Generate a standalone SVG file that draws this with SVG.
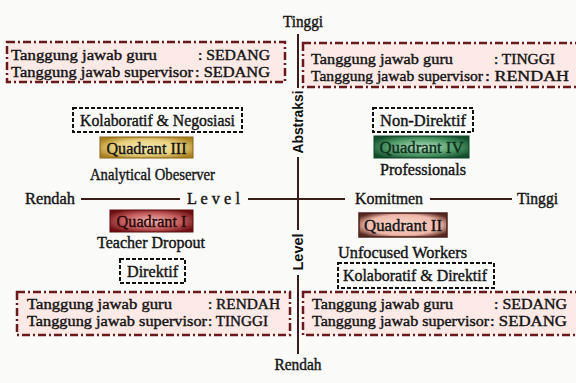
<svg xmlns="http://www.w3.org/2000/svg" width="576" height="383" viewBox="0 0 576 383">
<defs>
<style>
.t{font-family:"Liberation Serif","Times New Roman",serif;font-size:16.5px;fill:#141414;stroke:#141414;stroke-width:0.4}
.s{font-size:15px}
.ax{font-family:"Liberation Sans",Arial,sans-serif;font-weight:bold;font-size:14px;fill:#111}
.dd{fill:#fde9e6;stroke:#6b1a1c;stroke-width:2.5;stroke-dasharray:8 3 2 3}
.bd{fill:none;stroke:#111;stroke-width:2;stroke-dasharray:4 2}
.axis{stroke:#3a1d18;stroke-width:2;fill:none}
</style>
<radialGradient id="g3" cx="50%" cy="50%" r="60%"><stop offset="0" stop-color="#f7ebb4"/><stop offset="0.6" stop-color="#e8cf7c"/><stop offset="1" stop-color="#a9811f"/></radialGradient>
<radialGradient id="g4" cx="50%" cy="50%" r="60%"><stop offset="0" stop-color="#b8e2c2"/><stop offset="0.6" stop-color="#4f9a68"/><stop offset="1" stop-color="#124e2c"/></radialGradient>
<radialGradient id="g1" cx="50%" cy="50%" r="60%"><stop offset="0" stop-color="#f1b9b6"/><stop offset="0.6" stop-color="#c25a5a"/><stop offset="1" stop-color="#6d0f12"/></radialGradient>
<radialGradient id="g2" cx="50%" cy="50%" r="60%"><stop offset="0" stop-color="#fad8ce"/><stop offset="0.7" stop-color="#efb7a8"/><stop offset="1" stop-color="#5a2a22"/></radialGradient>
</defs>
<rect width="576" height="383" fill="#fafaf8"/>

<g id="connectors">
<line class="axis" x1="298" y1="34" x2="298" y2="88"/>
<line class="axis" x1="298" y1="157" x2="298" y2="230"/>
<line class="axis" x1="298" y1="275" x2="298" y2="354"/>
<line class="axis" x1="81" y1="199" x2="180" y2="199"/>
<line class="axis" x1="248" y1="199" x2="345" y2="199"/>
<line class="axis" x1="430" y1="199" x2="512" y2="199"/>
</g>

<g id="axis-labels">
<text class="t" x="303" y="27" text-anchor="middle" textLength="40" lengthAdjust="spacingAndGlyphs">Tinggi</text>
<text class="t" x="298" y="370" text-anchor="middle" textLength="47" lengthAdjust="spacingAndGlyphs">Rendah</text>
<text class="t" x="25" y="204" textLength="50" lengthAdjust="spacingAndGlyphs">Rendah</text>
<text class="t" x="187" y="204" textLength="53" lengthAdjust="spacingAndGlyphs">L e v e l</text>
<text class="t" x="355" y="204" textLength="68" lengthAdjust="spacingAndGlyphs">Komitmen</text>
<text class="t" x="517" y="204" textLength="41" lengthAdjust="spacingAndGlyphs">Tinggi</text>
<text class="ax" transform="translate(298,122) rotate(-90)" text-anchor="middle" dominant-baseline="central" textLength="63" lengthAdjust="spacingAndGlyphs">Abstraksi</text>
<text class="ax" transform="translate(298,252) rotate(-90)" text-anchor="middle" dominant-baseline="central" textLength="37" lengthAdjust="spacingAndGlyphs">Level</text>
</g>

<g id="box-top-left">
<rect class="dd" x="7" y="42" width="278" height="40"/>
<text class="t s" x="11" y="60" textLength="146" lengthAdjust="spacingAndGlyphs">Tanggung jawab guru</text>
<text class="t s" x="198" y="60" textLength="72" lengthAdjust="spacingAndGlyphs">: SEDANG</text>
<text class="t s" x="11" y="77" textLength="182" lengthAdjust="spacingAndGlyphs">Tanggung jawab supervisor</text>
<text class="t s" x="195" y="77" textLength="75" lengthAdjust="spacingAndGlyphs">: SEDANG</text>
</g>

<g id="box-top-right">
<rect class="dd" x="303" y="43" width="280" height="44"/>
<text class="t s" x="311" y="64" textLength="142" lengthAdjust="spacingAndGlyphs">Tanggung jawab guru</text>
<text class="t s" x="494" y="64" textLength="61" lengthAdjust="spacingAndGlyphs">: TINGGI</text>
<text class="t s" x="311" y="81" textLength="172" lengthAdjust="spacingAndGlyphs">Tanggung jawab supervisor</text>
<text class="t s" x="485" y="81" textLength="84" lengthAdjust="spacingAndGlyphs">: RENDAH</text>
</g>

<g id="box-bottom-left">
<rect class="dd" x="17" y="292" width="273" height="43"/>
<text class="t s" x="27" y="309" textLength="145" lengthAdjust="spacingAndGlyphs">Tanggung jawab guru</text>
<text class="t s" x="208" y="309" textLength="72" lengthAdjust="spacingAndGlyphs">: RENDAH</text>
<text class="t s" x="27" y="326" textLength="180" lengthAdjust="spacingAndGlyphs">Tanggung jawab supervisor</text>
<text class="t s" x="208" y="326" textLength="60" lengthAdjust="spacingAndGlyphs">: TINGGI</text>
</g>

<g id="box-bottom-right">
<rect class="dd" x="303" y="292" width="280" height="43"/>
<text class="t s" x="312" y="309" textLength="141" lengthAdjust="spacingAndGlyphs">Tanggung jawab guru</text>
<text class="t s" x="494" y="309" textLength="73" lengthAdjust="spacingAndGlyphs">: SEDANG</text>
<text class="t s" x="312" y="326" textLength="177" lengthAdjust="spacingAndGlyphs">Tanggung jawab supervisor</text>
<text class="t s" x="490" y="326" textLength="77" lengthAdjust="spacingAndGlyphs">: SEDANG</text>
</g>

<g id="kolaboratif-negosiasi">
<rect class="bd" x="73" y="108" width="169" height="24"/>
<text class="t" x="157.5" y="126" text-anchor="middle" textLength="155" lengthAdjust="spacingAndGlyphs">Kolaboratif &amp; Negosiasi</text>
</g>
<g id="quadrant-3">
<rect x="100" y="137" width="93" height="21" fill="url(#g3)" stroke="#8a6518" stroke-width="1"/>
<text class="t" x="146.5" y="153.5" text-anchor="middle" textLength="80" lengthAdjust="spacingAndGlyphs">Quadrant III</text>
</g>
<g id="analytical-observer">
<text class="t" x="152.5" y="180" text-anchor="middle" textLength="125" lengthAdjust="spacingAndGlyphs">Analytical Obeserver</text>
</g>

<g id="non-direktif">
<rect class="bd" x="373" y="108" width="100" height="24"/>
<text class="t" x="423" y="126" text-anchor="middle" textLength="86" lengthAdjust="spacingAndGlyphs">Non-Direktif</text>
</g>
<g id="quadrant-4">
<rect x="374" y="136" width="95" height="22" fill="url(#g4)" stroke="#0f4424" stroke-width="1"/>
<text class="t" x="421.5" y="153" text-anchor="middle" textLength="84" lengthAdjust="spacingAndGlyphs" style="fill:#10301c;stroke:#10301c">Quadrant IV</text>
</g>
<g id="professionals">
<text class="t" x="423" y="175" text-anchor="middle" textLength="86" lengthAdjust="spacingAndGlyphs">Professionals</text>
</g>

<g id="quadrant-1">
<rect x="110" y="210" width="83" height="22" fill="url(#g1)" stroke="#5e0c0e" stroke-width="1"/>
<text class="t" x="151.5" y="227" text-anchor="middle" textLength="70" lengthAdjust="spacingAndGlyphs" style="fill:#2a0808;stroke:#2a0808">Quadrant I</text>
</g>
<g id="teacher-dropout">
<text class="t" x="151" y="248" text-anchor="middle" textLength="108" lengthAdjust="spacingAndGlyphs">Teacher Dropout</text>
</g>
<g id="direktif">
<rect class="bd" x="120" y="259" width="65" height="24"/>
<text class="t" x="152.5" y="277" text-anchor="middle" textLength="51" lengthAdjust="spacingAndGlyphs">Direktif</text>
</g>

<g id="quadrant-2">
<rect x="359" y="213" width="88" height="24" fill="url(#g2)" stroke="#4a231d" stroke-width="1.5"/>
<text class="t" x="403" y="231" text-anchor="middle" textLength="78" lengthAdjust="spacingAndGlyphs">Quadrant II</text>
</g>
<g id="unfocused-workers">
<text class="t" x="402.5" y="258" text-anchor="middle" textLength="129" lengthAdjust="spacingAndGlyphs">Unfocused Workers</text>
</g>
<g id="kolaboratif-direktif">
<rect class="bd" x="338" y="263" width="156" height="25"/>
<text class="t" x="415" y="281" text-anchor="middle" textLength="144" lengthAdjust="spacingAndGlyphs">Kolaboratif &amp; Direktif</text>
</g>
</svg>
